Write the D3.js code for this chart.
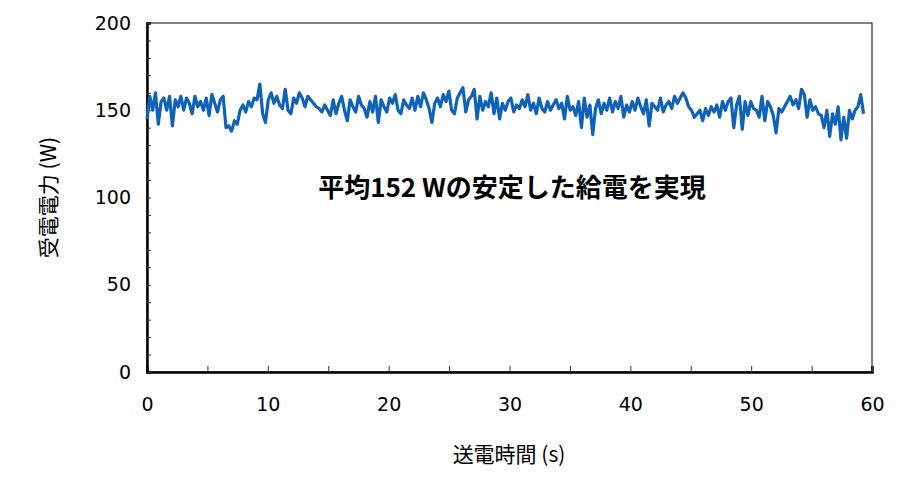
<!DOCTYPE html><html><head><meta charset="utf-8"><script src="https://cdn.jsdelivr.net/npm/d3@7"></script>
<style>body{margin:0;background:#fff}text{font-family:"Noto Sans CJK JP","Noto Sans",sans-serif}</style></head><body><svg id="c" width="900" height="495"></svg><script>
const xTicks=[0,10,20,30,40,50,60];
const yTicks=[0,50,100,150,200];
const tEnd=59.3;
const power=[145,158,150,160,142,155,157,150,158,141,156,152,158,150,157,154,148,158,152,155,150,157,147,159,154,149,156,158,140,141,138,144,142,150,153,149,155,152,157,156,165,148,143,156,160,154,158,153,151,162,150,148,157,154,160,157,152,158,156,154,152,151,149,153,150,147,156,148,154,158,150,144,156,152,149,158,153,151,146,155,149,158,143,156,152,149,157,154,159,150,148,156,153,151,157,150,158,152,160,156,151,143,154,157,152,159,155,161,150,148,157,160,163,149,156,158,162,145,158,150,155,152,160,148,157,145,154,150,155,157,149,153,151,156,152,159,150,154,148,157,151,149,155,150,153,156,151,154,145,158,150,152,147,155,140,157,146,153,136,151,156,148,154,150,157,149,155,151,158,146,153,149,155,150,157,152,148,156,141,154,152,150,157,149,153,155,151,158,154,157,160,157,152,150,146,148,150,144,151,147,152,149,153,146,155,150,155,157,140,153,158,139,155,147,155,151,150,146,158,144,155,152,147,137,151,149,152,155,158,153,156,151,162,159,146,156,150,152,148,147,140,150,135,148,142,152,133,146,134,150,145,150,152,159,148];
const step=tEnd/(power.length-1);
const W=900,H=495,m={l:147,r:28,t:23,b:123};
const svg=d3.select("#c");
const x=d3.scaleLinear().domain([0,60]).range([m.l,W-m.r]);
const y=d3.scaleLinear().domain([0,200]).range([H-m.b,m.t]);
const g=svg.append("g");
g.append("rect").attr("x",x(0)).attr("y",y(200)).attr("width",x(60)-x(0)).attr("height",y(0)-y(200)).attr("fill","none").attr("stroke","#000").attr("stroke-width",1);
const xa=g.append("g").attr("transform",`translate(0,${y(0)})`).call(d3.axisBottom(x).tickValues(d3.range(0,61,5)).tickSize(-6).tickFormat(d=>xTicks.includes(d)?d:""));
const ya=g.append("g").attr("transform",`translate(${x(0)},0)`).call(d3.axisLeft(y).tickValues(d3.range(0,201,10)).tickSize(-4).tickFormat(d=>yTicks.includes(d)?d:""));
[xa,ya].forEach(a=>{a.select(".domain").attr("stroke","#000").attr("stroke-width",2.5);a.selectAll("line").attr("stroke","#333");a.selectAll("text").style("font-size","19px").attr("fill","#000").style("font-family","Verdana,'DejaVu Sans',sans-serif");});
xa.selectAll("text").attr("y",26);
ya.selectAll("text").attr("x",-16);
const line=d3.line().x((d,i)=>x(i*step)).y(d=>y(d));
g.append("path").datum(power).attr("d",line).attr("fill","none").attr("stroke","#0f62b8").attr("stroke-width",3.2).attr("stroke-linejoin","round");
svg.append("text").attr("x",512).attr("y",197).attr("text-anchor","middle").attr("font-size",26).attr("font-weight","bold").text("平均152 Wの安定した給電を実現");
svg.append("text").attr("x",509).attr("y",462).attr("text-anchor","middle").attr("font-size",21).text("送電時間 (s)");
svg.append("text").attr("transform",`translate(56,${y(100)}) rotate(-90)`).attr("text-anchor","middle").attr("font-size",21).text("受電電力 (W)");
</script></body></html>
